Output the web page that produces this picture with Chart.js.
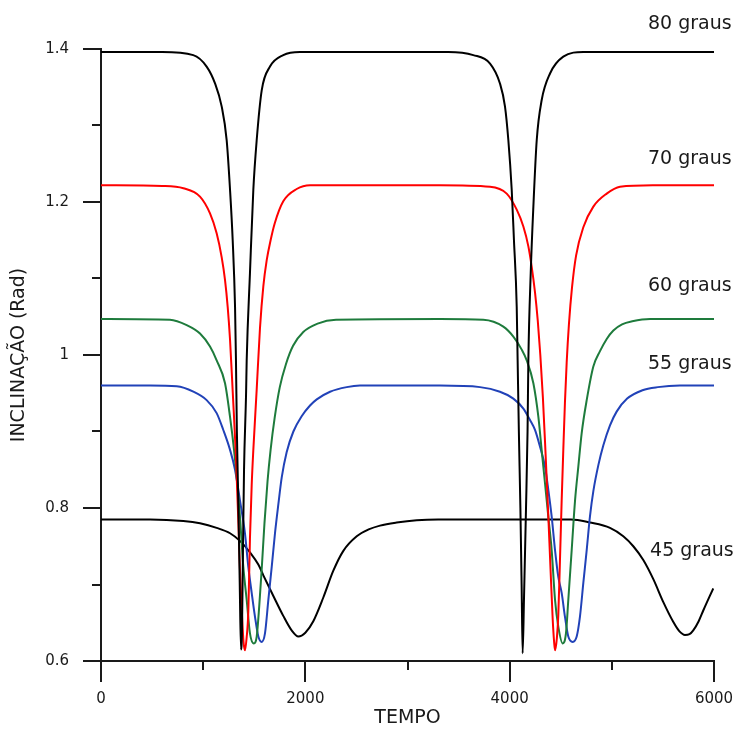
<!DOCTYPE html>
<html>
<head>
<meta charset="utf-8">
<script src="https://cdn.jsdelivr.net/npm/chart.js@4"></script>
<style>
  html, body { margin: 0; padding: 0; background: #fff; }
  canvas { display: block; }
</style>
</head>
<body>
<canvas id="grafico" width="735" height="733"></canvas>
<script>
// Inclinacao (rad) x tempo para varios angulos iniciais
const t80 = [0, 600, 903, 1034, 1116, 1181, 1230, 1263, 1289, 1312, 1321, 1330, 1345, 1358, 1370, 1380, 1390, 1400, 1420, 1426, 1458, 1491, 1524, 1573, 1654, 1784, 1948,
             3400, 3644, 3808, 3905, 3954, 3987, 4020, 4042, 4069, 4078, 4090, 4105, 4117, 4127, 4140, 4160, 4175, 4183, 4206, 4232, 4265, 4313, 4395, 4525, 4721, 6000];
const y80 = [1.396, 1.396, 1.392, 1.377, 1.355, 1.325, 1.281, 1.216, 1.150, 1.063, 0.993, 0.90, 0.80, 0.70, 0.615, 0.64, 0.75, 0.85, 0.95, 0.993, 1.107, 1.216, 1.281, 1.346, 1.377, 1.392, 1.396,
             1.396, 1.392, 1.381, 1.355, 1.325, 1.281, 1.216, 1.150, 1.063, 0.993, 0.90, 0.80, 0.70, 0.610, 0.68, 0.80, 0.90, 0.993, 1.107, 1.194, 1.281, 1.333, 1.368, 1.390, 1.396, 1.396];

const t70 = [0, 600, 806, 969, 1067, 1132, 1181, 1214, 1240, 1263, 1290, 1320, 1345, 1360, 1380, 1395, 1409, 1425, 1442, 1458, 1475, 1491, 1524, 1556, 1589, 1622, 1660, 1700, 1784, 1915, 2046,
             3318, 3808, 3971, 4069, 4134, 4183, 4216, 4248, 4275, 4300, 4325, 4350, 4375, 4400, 4421, 4435, 4444, 4462, 4476, 4492, 4509, 4525, 4541, 4558, 4580, 4610, 4650, 4721, 4819, 4950, 5080, 5400, 6000];
const y70 = [1.222, 1.221, 1.218, 1.207, 1.185, 1.159, 1.128, 1.098, 1.063, 1.020, 0.95, 0.87, 0.78, 0.72, 0.66, 0.625, 0.614, 0.63, 0.665, 0.76, 0.83, 0.876, 0.955, 1.035, 1.090, 1.124, 1.150, 1.172, 1.201, 1.217, 1.222,
             1.222, 1.220, 1.211, 1.190, 1.168, 1.142, 1.115, 1.082, 1.045, 1.00, 0.945, 0.875, 0.80, 0.72, 0.655, 0.625, 0.614, 0.63, 0.66, 0.73, 0.81, 0.876, 0.938, 0.99, 1.04, 1.088, 1.130, 1.167, 1.194, 1.211, 1.220, 1.222, 1.222];

const t60 = [0, 675, 839, 969, 1067, 1132, 1214, 1263, 1302, 1334, 1360, 1393, 1426, 1458, 1495, 1524, 1549, 1573, 1600, 1630, 1660, 1700, 1750, 1810, 1880, 1980, 2120, 2300,
             3318, 3742, 3938, 4036, 4118, 4167, 4232, 4281, 4313, 4346, 4378, 4411, 4444, 4476, 4519, 4551, 4574, 4607, 4640, 4672, 4705, 4754, 4819, 4884, 4950, 5015, 5100, 5200, 5374, 6000];
const y60 = [1.047, 1.046, 1.039, 1.028, 1.011, 0.993, 0.963, 0.919, 0.876, 0.832, 0.789, 0.723, 0.680, 0.636, 0.623, 0.632, 0.672, 0.720, 0.780, 0.835, 0.876, 0.918, 0.958, 0.988, 1.012, 1.030, 1.041, 1.046,
             1.047, 1.046, 1.037, 1.024, 1.007, 0.993, 0.963, 0.919, 0.876, 0.832, 0.789, 0.745, 0.680, 0.645, 0.623, 0.636, 0.680, 0.745, 0.810, 0.854, 0.898, 0.941, 0.985, 1.005, 1.021, 1.032, 1.040, 1.044, 1.047, 1.047];

const t55 = [0, 480, 741, 904, 1034, 1132, 1197, 1263, 1312, 1360, 1409, 1442, 1475, 1507, 1540, 1573, 1605, 1638, 1671, 1703, 1736, 1769, 1817, 1883, 1964, 2046, 2112, 2242, 2405, 2535,
             3318, 3710, 3905, 4036, 4134, 4199, 4248, 4297, 4346, 4378, 4411, 4444, 4476, 4509, 4541, 4574, 4617, 4656, 4688, 4721, 4754, 4786, 4819, 4868, 4917, 4982, 5047, 5150, 5300, 5450, 5667, 6000];
const y55 = [0.960, 0.960, 0.959, 0.952, 0.941, 0.924, 0.902, 0.876, 0.850, 0.810, 0.767, 0.723, 0.689, 0.658, 0.632, 0.625, 0.636, 0.680, 0.723, 0.767, 0.805, 0.840, 0.873, 0.900, 0.920, 0.934, 0.942, 0.952, 0.958, 0.960,
             0.960, 0.958, 0.952, 0.943, 0.930, 0.915, 0.902, 0.880, 0.854, 0.824, 0.789, 0.745, 0.710, 0.689, 0.658, 0.632, 0.625, 0.632, 0.658, 0.702, 0.745, 0.789, 0.822, 0.856, 0.882, 0.908, 0.926, 0.943, 0.954, 0.958, 0.960, 0.960];

const t45 = [0, 480, 806, 969, 1132, 1263, 1360, 1458, 1540, 1589, 1687, 1784, 1866, 1932, 2000, 2078, 2176, 2274, 2372, 2503, 2620, 2731, 2894, 3090, 3300,
             4600, 4786, 4982, 5112, 5210, 5308, 5406, 5504, 5602, 5660, 5716, 5760, 5797, 5850, 5895, 5993];
const y45 = [0.785, 0.785, 0.783, 0.780, 0.774, 0.767, 0.757, 0.742, 0.726, 0.712, 0.685, 0.659, 0.640, 0.632, 0.637, 0.652, 0.683, 0.718, 0.744, 0.763, 0.772, 0.777, 0.781, 0.784, 0.785,
             0.785, 0.781, 0.774, 0.763, 0.750, 0.732, 0.707, 0.677, 0.651, 0.639, 0.634, 0.635, 0.640, 0.652, 0.666, 0.695];

const nomes = ['80 graus', '70 graus', '60 graus', '55 graus', '45 graus'];
const ticksX = [0, 2000, 4000, 6000];
const ticksY = [0.6, 0.8, 1.0, 1.2, 1.4];
const menoresX = [1000, 3000, 5000];
const menoresY = [0.7, 0.9, 1.1, 1.3];

const FONTE = "'DejaVu Sans', Verdana, sans-serif";
const TINTA = '#1a1a1a';

function pares(ts, ys) { return ts.map((t, i) => ({ x: t, y: ys[i] })); }

const series = [
  { nome: nomes[0], data: pares(t80, y80), cor: '#000000', rotulo: [5354, 1.433] },
  { nome: nomes[1], data: pares(t70, y70), cor: '#ff0000', rotulo: [5354, 1.256] },
  { nome: nomes[2], data: pares(t60, y60), cor: '#1e7b3c', rotulo: [5354, 1.090] },
  { nome: nomes[3], data: pares(t55, y55), cor: '#2142b8', rotulo: [5354, 0.988] },
  { nome: nomes[4], data: pares(t45, y45), cor: '#000000', rotulo: [5374, 0.744] },
];

/* ticks menores + rotulos das curvas */
const extras = {
  id: 'extras',
  afterDraw(chart) {
    const { ctx, scales: { x, y } } = chart;
    ctx.save();
    ctx.strokeStyle = TINTA;
    ctx.lineWidth = 2;
    ctx.beginPath();
    menoresY.forEach(v => {
      const py = Math.round(y.getPixelForValue(v));
      ctx.moveTo(x.left - 9, py); ctx.lineTo(x.left, py);
    });
    menoresX.forEach(v => {
      const px = Math.round(x.getPixelForValue(v));
      ctx.moveTo(px, y.bottom); ctx.lineTo(px, y.bottom + 9);
    });
    ctx.stroke();

    ctx.fillStyle = TINTA;
    ctx.font = '19px ' + FONTE;
    ctx.textBaseline = 'middle';
    ctx.textAlign = 'left';
    series.forEach(s => {
      ctx.fillText(s.nome, x.getPixelForValue(s.rotulo[0]), y.getPixelForValue(s.rotulo[1]));
    });
    ctx.restore();
  }
};

const fonteTick = { family: FONTE, size: 15 };
const fonteTitulo = { family: FONTE, size: 19 };

new Chart(document.getElementById('grafico'), {
  type: 'line',
  data: {
    datasets: series.map(s => ({
      label: s.nome, data: s.data, borderColor: s.cor, borderWidth: 2,
      pointRadius: 0, fill: false, cubicInterpolationMode: 'monotone',
    })),
  },
  options: {
    responsive: false,
    animation: false,
    events: [],
    layout: { padding: { top: 49, right: 21, left: 0, bottom: 0 } },
    plugins: { legend: { display: false }, tooltip: { enabled: false } },
    scales: {
      x: {
        type: 'linear', min: 0, max: 6000,
        afterFit: s => { s.height = 72; s.paddingLeft = 0; s.paddingRight = 0; },
        afterBuildTicks: s => { s.ticks = ticksX.map(v => ({ value: v })); },
        grid: { display: true, drawOnChartArea: false, color: TINTA, lineWidth: 2, tickLength: 21 },
        border: { display: true, color: TINTA, width: 2 },
        ticks: { color: TINTA, font: fonteTick, padding: 8, maxRotation: 0, callback: v => String(v) },
        title: { display: true, text: 'TEMPO', color: TINTA, font: fonteTitulo, padding: { top: 0, bottom: 4 } },
      },
      y: {
        type: 'linear', min: 0.6, max: 1.4,
        afterFit: s => { s.width = 101; s.paddingTop = 0; s.paddingBottom = 0; },
        afterBuildTicks: s => { s.ticks = ticksY.map(v => ({ value: v })); },
        grid: { display: true, drawOnChartArea: false, color: TINTA, lineWidth: 2, tickLength: 18 },
        border: { display: true, color: TINTA, width: 2 },
        ticks: { color: TINTA, font: fonteTick, padding: 14, callback: v => String(+v.toFixed(1)) },
        title: { display: true, text: 'INCLINAÇÃO (Rad)', color: TINTA, font: fonteTitulo, padding: { top: 8, bottom: 0 } },
      },
    },
  },
  plugins: [extras],
});
</script>
</body>
</html>
